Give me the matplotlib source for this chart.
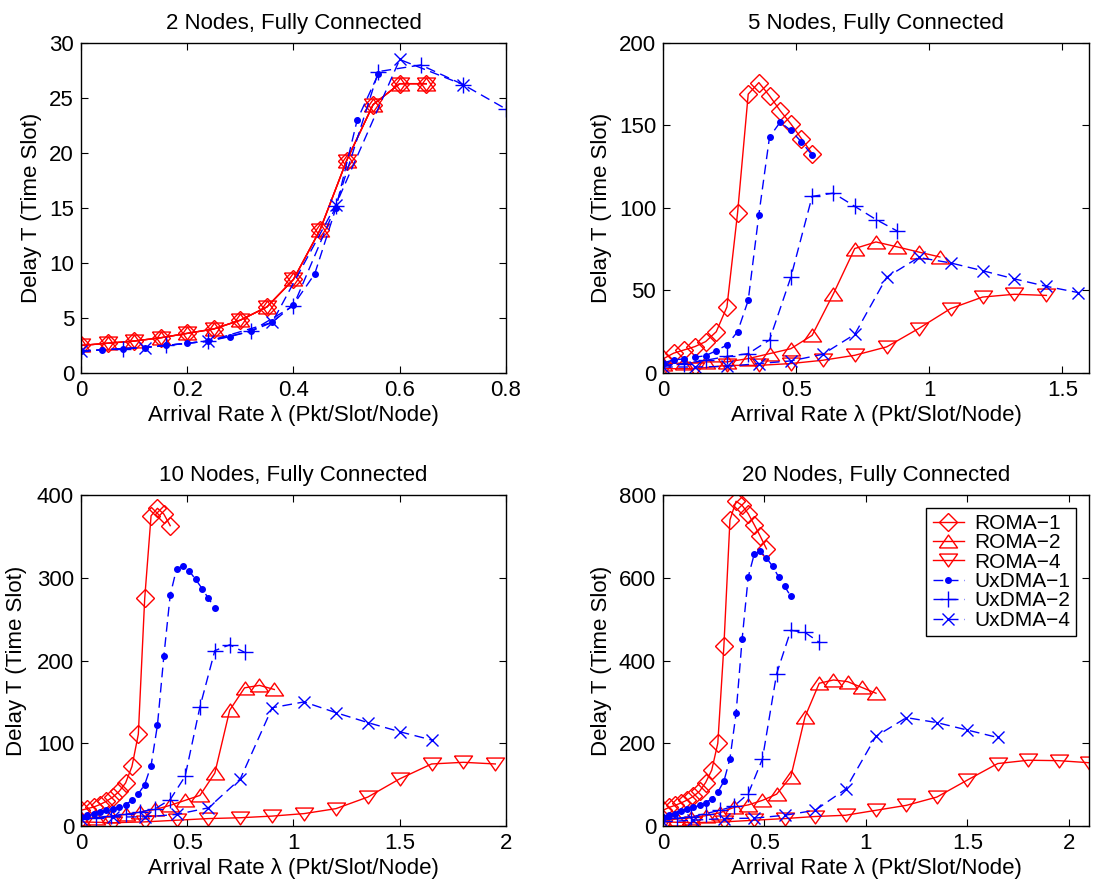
import matplotlib
matplotlib.use("Agg")
import matplotlib.pyplot as plt

plt.rcParams['font.family'] = ['Liberation Sans', 'DejaVu Sans']
plt.rcParams['font.size'] = 16

# ---- 2 nodes ----
n2_roma_x = [0, 0.05, 0.1, 0.15, 0.2, 0.25, 0.3, 0.35, 0.4, 0.45, 0.5, 0.55, 0.6, 0.65]
n2_roma1 = [2.5, 2.7, 2.9, 3.2, 3.6, 4.0, 4.8, 6.0, 8.5, 13.0, 19.3, 24.4, 26.3, 26.3]
n2_roma2 = [2.5, 2.7, 2.9, 3.2, 3.6, 4.0, 4.8, 6.0, 8.5, 13.0, 19.3, 24.4, 26.3, 26.3]
n2_roma4 = [2.5, 2.7, 2.9, 3.2, 3.6, 4.0, 4.8, 6.0, 8.5, 13.0, 19.3, 24.4, 26.3, 26.3]
n2_ux1_x = [0, 0.04, 0.08, 0.12, 0.16, 0.2, 0.24, 0.28, 0.32, 0.36, 0.4, 0.44, 0.48, 0.52, 0.56]
n2_ux1 = [2.0, 2.1, 2.2, 2.3, 2.5, 2.7, 2.9, 3.3, 3.8, 4.6, 6.2, 9.0, 15.0, 23.0, 27.2]
n2_ux2_x = [0, 0.08, 0.16, 0.24, 0.32, 0.4, 0.48, 0.56, 0.64, 0.72, 0.8]
n2_ux2 = [2.0, 2.2, 2.5, 2.9, 3.8, 6.1, 15.2, 27.4, 28.0, 26.2, 24.0]
n2_ux4_x = [0, 0.12, 0.24, 0.36, 0.48, 0.6, 0.72]
n2_ux4 = [2.0, 2.3, 2.9, 4.6, 15.3, 28.5, 26.2]

# ---- 5 nodes ----
n5_roma1_x = [0, 0.04, 0.08, 0.12, 0.16, 0.2, 0.24, 0.28, 0.32, 0.36, 0.4, 0.44, 0.48, 0.52, 0.56]
n5_roma1 = [8.5, 12, 14, 16, 19, 25, 40, 97, 169, 176, 168, 159, 151, 142, 133]
n5_roma2_x = [0, 0.08, 0.16, 0.24, 0.32, 0.4, 0.48, 0.56, 0.64, 0.72, 0.8, 0.88, 0.96, 1.04]
n5_roma2 = [5.7, 6, 6.7, 6.7, 8.7, 11.7, 14.7, 22.8, 48, 75.4, 79.4, 76.4, 73.3, 70.3]
n5_roma4_x = [0, 0.12, 0.24, 0.36, 0.48, 0.6, 0.72, 0.84, 0.96, 1.08, 1.2, 1.32, 1.44]
n5_roma4 = [2.6, 2.6, 4.6, 4.6, 5.7, 7.7, 10.7, 15.8, 26.9, 39, 46, 47.7, 47]
n5_ux1_x = [0, 0.04, 0.08, 0.12, 0.16, 0.2, 0.24, 0.28, 0.32, 0.36, 0.4, 0.44, 0.48, 0.52, 0.56]
n5_ux1 = [6, 8, 8.5, 9.5, 10.5, 13.5, 17, 25, 44, 96, 143, 152, 147, 140, 132]
n5_ux2_x = [0, 0.08, 0.16, 0.24, 0.32, 0.4, 0.48, 0.56, 0.64, 0.72, 0.8, 0.88]
n5_ux2 = [4.6, 5.7, 7.7, 10, 11.7, 20, 58, 107, 109, 101, 93, 86]
n5_ux4_x = [0, 0.12, 0.24, 0.36, 0.48, 0.6, 0.72, 0.84, 0.96, 1.08, 1.2, 1.32, 1.44, 1.56]
n5_ux4 = [3.6, 3.6, 4, 5.7, 7.3, 11.3, 23.4, 58, 70, 66.7, 62, 57, 52.5, 48.7]

# ---- 10 nodes ----
n10_roma1_x = [0, 0.03, 0.06, 0.09, 0.12, 0.15, 0.18, 0.21, 0.24, 0.27, 0.3, 0.33, 0.36, 0.39, 0.42]
n10_roma1 = [19, 21, 23, 26, 30, 35, 42, 52, 72, 111, 275, 375, 384, 377, 363]
n10_roma2_x = [0, 0.07, 0.14, 0.21, 0.28, 0.35, 0.42, 0.49, 0.56, 0.63, 0.7, 0.77, 0.84, 0.91]
n10_roma2 = [9, 10, 12, 14, 17, 20, 25, 31, 37, 64, 140, 167, 170, 165]
n10_roma4_x = [0, 0.15, 0.3, 0.45, 0.6, 0.75, 0.9, 1.05, 1.2, 1.35, 1.5, 1.65, 1.8, 1.95]
n10_roma4 = [5, 4, 5, 7, 9, 10, 12, 15, 21, 35, 57, 75, 77, 75]
n10_ux1_x = [0, 0.03, 0.06, 0.09, 0.12, 0.15, 0.18, 0.21, 0.24, 0.27, 0.3,
             0.33, 0.36, 0.39, 0.42, 0.45, 0.48, 0.51, 0.54, 0.57, 0.6, 0.63]
n10_ux1 = [11, 13, 15, 17, 19, 21, 23, 26, 31, 39, 50,
           73, 122, 205, 279, 311, 314, 308, 298, 287, 275, 264]
n10_ux2_x = [0, 0.07, 0.14, 0.21, 0.28, 0.35, 0.42, 0.49, 0.56, 0.63, 0.7, 0.77]
n10_ux2 = [8, 10, 12, 14, 17, 21, 32, 60, 144, 212, 219, 210]
n10_ux4_x = [0, 0.15, 0.3, 0.45, 0.6, 0.75, 0.9, 1.05, 1.2, 1.35, 1.5, 1.65]
n10_ux4 = [9, 11, 11, 14, 22, 57, 143, 150, 137, 125, 114, 104]

# ---- 20 nodes ----
n20_roma1_x = [0, 0.03, 0.06, 0.09, 0.12, 0.15, 0.18, 0.21, 0.24, 0.27, 0.3,
               0.33, 0.36, 0.39, 0.42, 0.45, 0.48, 0.51]
n20_roma1 = [38, 45, 50, 56, 63, 72, 84, 105, 135, 200, 435,
             740, 785, 775, 755, 728, 700, 670]
n20_roma2_x = [0, 0.07, 0.14, 0.21, 0.28, 0.35, 0.42, 0.49, 0.56, 0.63, 0.7,
               0.77, 0.84, 0.91, 0.98, 1.05]
n20_roma2 = [14, 17, 20, 25, 32, 45, 51, 62, 77, 119, 264, 345, 353, 349, 335, 321]
n20_roma4_x = [0, 0.15, 0.3, 0.45, 0.6, 0.75, 0.9, 1.05, 1.2, 1.35, 1.5, 1.65, 1.8, 1.95, 2.1]
n20_roma4 = [10, 8, 10, 14, 18, 23, 26, 38, 50, 70, 111, 151, 159, 158, 153]
n20_ux1_x = [0, 0.03, 0.06, 0.09, 0.12, 0.15, 0.18, 0.21, 0.24, 0.27, 0.3,
             0.33, 0.36, 0.39, 0.42, 0.45, 0.48, 0.51, 0.54, 0.57, 0.6, 0.63]
n20_ux1 = [22, 26, 30, 36, 40, 45, 50, 56, 66, 82, 108,
           163, 272, 452, 602, 658, 664, 648, 628, 602, 579, 555]
n20_ux2_x = [0, 0.07, 0.14, 0.21, 0.28, 0.35, 0.42, 0.49, 0.56, 0.63, 0.7, 0.77]
n20_ux2 = [18, 19, 22, 30, 38, 48, 78, 162, 368, 473, 468, 444]
n20_ux4_x = [0, 0.15, 0.3, 0.45, 0.6, 0.75, 0.9, 1.05, 1.2, 1.35, 1.5, 1.65]
n20_ux4 = [10, 14, 18, 19, 26, 38, 89, 217, 262, 250, 232, 214]

labels = ["ROMA\u22121", "ROMA\u22122", "ROMA\u22124", "UxDMA\u22121", "UxDMA\u22122", "UxDMA\u22124"]

# wide, flat triangles like the MATLAB markers
tri_up = [(-0.7, -0.5), (0.7, -0.5), (0, 0.5), (-0.7, -0.5)]
tri_down = [(-0.7, 0.5), (0.7, 0.5), (0, -0.5), (-0.7, 0.5)]

dash = (0, (7, 4))
styles = [
    dict(color='red', ls='-', marker='D', ms=9, mfc='none'),
    dict(color='red', ls='-', marker=tri_up, ms=13, mfc='none'),
    dict(color='red', ls='-', marker=tri_down, ms=13, mfc='none'),
    dict(color='blue', ls=dash, marker='.', ms=8, mfc='blue'),
    dict(color='blue', ls=dash, marker='+', ms=11, mfc='none'),
    dict(color='blue', ls=dash, marker='x', ms=9, mfc='none'),
]


# draw one subplot: series is a list of (x, y) in legend order
def drawPanel(ax, title, series, xlim, ylim, xticks, yticks, ylab_x):
    for (x, y), st, lab in zip(series, styles, labels):
        ax.plot(x, y, lw=1, mew=1, label=lab, **st)
    ax.set_xlim(xlim)
    ax.set_ylim(ylim)
    ax.set_xticks(xticks)
    ax.set_yticks(yticks)
    ax.set_xticklabels([f"{t:g}" for t in xticks])
    ax.set_title(title, fontsize=16, pad=10)
    ax.set_xlabel("Arrival Rate \u03bb (Pkt/Slot/Node)", fontsize=16, labelpad=3)
    ax.set_ylabel("Delay T (Time Slot)", fontsize=16)
    ax.yaxis.set_label_coords(ylab_x, 0.5)
    ax.tick_params(direction='in', top=True, right=True, length=5, width=0.8, pad=5, labelsize=16)
    for s in ax.spines.values():
        s.set_linewidth(1)


fig = plt.figure(figsize=(10.97, 8.88), dpi=100)
ax1 = fig.add_axes([0.0738, 0.580, 0.3874, 0.3716])
ax2 = fig.add_axes([0.6044, 0.580, 0.3883, 0.3716])
ax3 = fig.add_axes([0.0738, 0.0698, 0.3874, 0.3727])
ax4 = fig.add_axes([0.6044, 0.0698, 0.3883, 0.3727])

drawPanel(ax1, "2 Nodes, Fully Connected",
          [(n2_roma_x, n2_roma1), (n2_roma_x, n2_roma2), (n2_roma_x, n2_roma4),
           (n2_ux1_x, n2_ux1), (n2_ux2_x, n2_ux2), (n2_ux4_x, n2_ux4)],
          (0, 0.8), (0, 30), [0, 0.2, 0.4, 0.6, 0.8], [0, 5, 10, 15, 20, 25, 30], -0.092)

drawPanel(ax2, "5 Nodes, Fully Connected",
          [(n5_roma1_x, n5_roma1), (n5_roma2_x, n5_roma2), (n5_roma4_x, n5_roma4),
           (n5_ux1_x, n5_ux1), (n5_ux2_x, n5_ux2), (n5_ux4_x, n5_ux4)],
          (0, 1.6), (0, 200), [0, 0.5, 1, 1.5], [0, 50, 100, 150, 200], -0.12)

drawPanel(ax3, "10 Nodes, Fully Connected",
          [(n10_roma1_x, n10_roma1), (n10_roma2_x, n10_roma2), (n10_roma4_x, n10_roma4),
           (n10_ux1_x, n10_ux1), (n10_ux2_x, n10_ux2), (n10_ux4_x, n10_ux4)],
          (0, 2), (0, 400), [0, 0.5, 1, 1.5, 2], [0, 100, 200, 300, 400], -0.127)

drawPanel(ax4, "20 Nodes, Fully Connected",
          [(n20_roma1_x, n20_roma1), (n20_roma2_x, n20_roma2), (n20_roma4_x, n20_roma4),
           (n20_ux1_x, n20_ux1), (n20_ux2_x, n20_ux2), (n20_ux4_x, n20_ux4)],
          (0, 2.1), (0, 800), [0, 0.5, 1, 1.5, 2], [0, 200, 400, 600, 800], -0.12)

leg = ax4.legend(loc='upper right', fontsize=15, fancybox=False, framealpha=1,
                 edgecolor='black', handlelength=1.5, labelspacing=0.02,
                 borderaxespad=0.6, borderpad=0.3, handletextpad=0.5)
leg.get_frame().set_linewidth(1)

fig.savefig("out.png", dpi=100)
